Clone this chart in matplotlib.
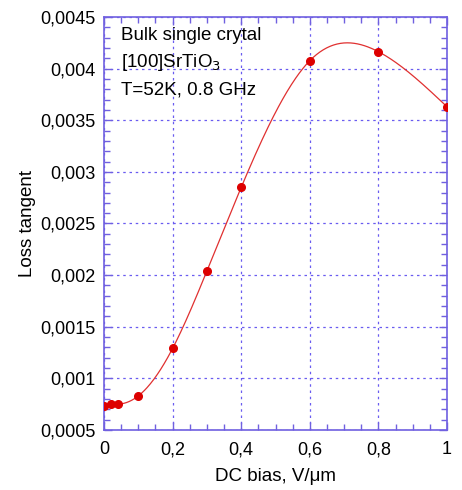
import numpy as np
import matplotlib.pyplot as plt
from matplotlib.ticker import MultipleLocator, FuncFormatter

plt.rcParams['font.family'] = ['Liberation Sans', 'DejaVu Sans']

# measured loss tangent vs DC bias
bias = [0.0, 0.02, 0.04, 0.1, 0.2, 0.3, 0.4, 0.6, 0.8, 1.0]
loss = [0.000735, 0.000749, 0.00075, 0.00083, 0.00129, 0.00204, 0.00285, 0.004077, 0.004164, 0.003631]


def natural_spline(x, y, xs):
    x = np.asarray(x, float)
    y = np.asarray(y, float)
    n = len(x)
    h = np.diff(x)
    A = np.zeros((n, n))
    b = np.zeros(n)
    A[0, 0] = A[-1, -1] = 1
    for i in range(1, n - 1):
        A[i, i - 1] = h[i - 1]
        A[i, i] = 2 * (h[i - 1] + h[i])
        A[i, i + 1] = h[i]
        b[i] = 3 * ((y[i + 1] - y[i]) / h[i] - (y[i] - y[i - 1]) / h[i - 1])
    c = np.linalg.solve(A, b)
    out = np.empty_like(xs)
    for k, xv in enumerate(xs):
        i = min(max(np.searchsorted(x, xv) - 1, 0), n - 2)
        d = (c[i + 1] - c[i]) / (3 * h[i])
        bb = (y[i + 1] - y[i]) / h[i] - h[i] * (2 * c[i] + c[i + 1]) / 3
        t = xv - x[i]
        out[k] = y[i] + bb * t + c[i] * t ** 2 + d * t ** 3
    return out


xs = np.linspace(0, 1, 400)
ys = natural_spline(bias, loss, xs)

fig = plt.figure(figsize=(4.62, 4.9), dpi=100)
ax = fig.add_axes([104 / 462, 1 - 430 / 490, 343 / 462, 413 / 490])

axcol = '#7060e0'
ax.plot(xs, ys, color='#e03030', lw=0.9)
ax.plot(bias, loss, 'o', color='#dd0000', ms=5.5, zorder=3)

ax.set_xlim(0, 1)
ax.set_ylim(0.0005, 0.0045)
ax.xaxis.set_major_locator(MultipleLocator(0.2))
ax.xaxis.set_minor_locator(MultipleLocator(0.05))
ax.yaxis.set_major_locator(MultipleLocator(0.0005))
ax.yaxis.set_minor_locator(MultipleLocator(0.0001))


def comma(v, pos):
    s = ('%.4f' % v).rstrip('0').rstrip('.')
    return s.replace('.', ',')


ax.xaxis.set_major_formatter(FuncFormatter(comma))
ax.yaxis.set_major_formatter(FuncFormatter(comma))

ax.tick_params(which='both', direction='in', top=True, right=True, color=axcol,
               labelsize=13, labelcolor='black')
ax.tick_params(which='major', length=6, width=1)
ax.tick_params(which='minor', length=4, width=1)
ax.tick_params(axis='y', which='major', pad=6)
ax.tick_params(axis='x', which='major', pad=8)
for sp in ax.spines.values():
    sp.set_color(axcol)
    sp.set_linewidth(1.2)

ax.grid(True, which='major', color='#6a5cf0', ls=(0, (2, 3)), lw=0.9)

ax.set_xlabel('DC bias, V/\u03bcm', fontsize=13.5, labelpad=7)
ax.set_ylabel('Loss tangent', fontsize=13.5, labelpad=3)

ax.text(0.05, 0.956, 'Bulk single crytal', transform=ax.transAxes, fontsize=13.5, va='center')
ax.text(0.05, 0.889, '[100]SrTiO$_3$', transform=ax.transAxes, fontsize=13.5, va='center')
ax.text(0.05, 0.823, 'T=52K, 0.8 GHz', transform=ax.transAxes, fontsize=13.5, va='center')

fig.savefig('out.png', dpi=100)
